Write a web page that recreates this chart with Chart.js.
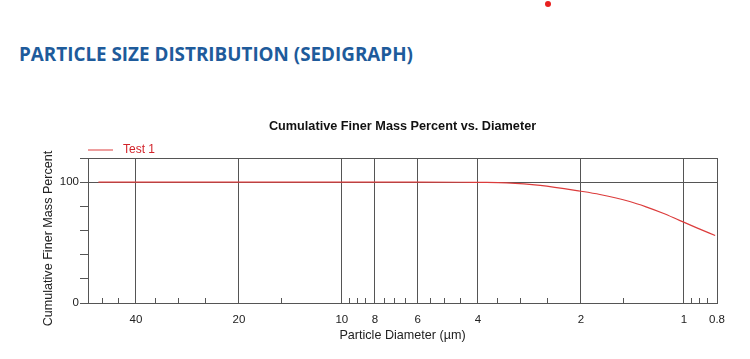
<!DOCTYPE html>
<html>
<head>
<meta charset="utf-8">
<script src="https://cdn.jsdelivr.net/npm/chart.js@4.4.1/dist/chart.umd.min.js"></script>
<style>
  html, body { margin: 0; padding: 0; background: #ffffff; }
  body { width: 750px; height: 359px; position: relative; overflow: hidden; }
  #heading {
    position: absolute; left: 19px; top: 45px; margin: 0;
    font-family: "Open Sans", "Noto Sans", sans-serif; font-weight: 700;
    font-size: 19px; line-height: 19px; color: #1e5b9b; white-space: nowrap;
    transform-origin: 0 0;
  }
  #dot { position: absolute; left: 545px; top: 1px; width: 6px; height: 6px; border-radius: 50%; background: #e8201f; }
  #wrap { position: absolute; left: 0; top: 0; width: 750px; height: 359px; }
</style>
</head>
<body>
<div id="dot"></div>
<div id="heading">PARTICLE SIZE DISTRIBUTION (SEDIGRAPH)</div>
<div id="wrap"><canvas id="c" width="750" height="359"></canvas></div>
<script>
// ---- data ----
const seriesName = 'Test 1';
const diameters = [51.5, 40, 20, 10, 6, 4.5, 4, 3.3, 2.63, 2.0, 1.76, 1.44, 1.29, 1.15, 1.03, 0.92, 0.81];
const finerPercent = [100, 100, 100, 100, 100, 99.95, 99.8, 99.45, 97.4, 92.5, 89.8, 84.0, 79.6, 74.3, 68.4, 62.4, 55.9];
const xMajorTicks = [40, 20, 10, 8, 6, 4, 2, 1, 0.8];
const xTickLabels = ['40', '20', '10', '8', '6', '4', '2', '1', '0.8'];
const xMinorTicks = [50, 45, 35, 30, 25, 15, 9.5, 9, 8.5, 7.5, 7, 6.5, 5.5, 5, 4.5, 3.5, 3, 2.5, 1.5, 0.95, 0.9, 0.85];
const yLabelValues = [0, 100];
const yTickLabels = ['0', '100'];

// fit heading width to reference
(function(){
  const h = document.getElementById('heading');
  const w = h.getBoundingClientRect().width;
  h.style.transform = 'scaleX(' + (394 / w) + ')';
})();

const lineColor = '#dc3c3c';
const gridColor = '#555555';
const fontFamily = '"Liberation Sans", Arial, sans-serif';

// legend symbol: short line followed by a gap
const legendSym = document.createElement('canvas');
legendSym.width = 29; legendSym.height = 3;
(function(){
  const g = legendSym.getContext('2d');
  g.strokeStyle = lineColor; g.lineWidth = 1;
  g.beginPath(); g.moveTo(0, 1.5); g.lineTo(25, 1.5); g.stroke();
})();

const points = diameters.map((d, i) => ({ x: d, y: finerPercent[i] }));

new Chart(document.getElementById('c'), {
  type: 'line',
  data: {
    datasets: [{
      label: seriesName,
      data: points,
      borderColor: lineColor,
      backgroundColor: lineColor,
      borderWidth: 1.2,
      pointRadius: 0,
      cubicInterpolationMode: 'monotone',
      fill: false
    }]
  },
  options: {
    responsive: false,
    animation: false,
    devicePixelRatio: 1,
    layout: { padding: { left: 0, right: 33, top: 0, bottom: 0 } },
    plugins: {
      title: {
        display: true,
        text: 'Cumulative Finer Mass Percent vs. Diameter',
        fullSize: false,
        color: '#111111',
        font: { family: fontFamily, size: 12.7, weight: 'bold' },
        padding: { top: 118.9, bottom: 9.86 }
      },
      legend: {
        display: true,
        fullSize: false,
        align: 'start',
        maxHeight: 14,
        labels: {
          usePointStyle: true,
          pointStyle: legendSym,
          pointStyleWidth: 29,
          padding: 0,
          color: '#d2232a',
          font: { family: fontFamily, size: 12 }
        }
      },
      tooltip: { enabled: false }
    },
    scales: {
      x: {
        type: 'logarithmic',
        reverse: true,
        min: 0.8,
        max: 55.24,
        afterFit: (s) => { s.height = 56; },
        afterBuildTicks: (s) => {
          const all = xMajorTicks.concat(xMinorTicks).sort((a, b) => b - a);
          s.ticks = all.map(v => ({ value: v, major: xMajorTicks.includes(v) }));
        },
        ticks: {
          autoSkip: false,
          maxRotation: 0,
          minRotation: 0,
          padding: 14.8,
          color: '#222222',
          font: { family: fontFamily, size: 11.5 },
          callback: (v) => {
            const i = xMajorTicks.indexOf(v);
            return i >= 0 ? xTickLabels[i] : '';
          }
        },
        grid: {
          drawTicks: true,
          tickLength: -5,
          color: (ctx) => (ctx.tick && xMajorTicks.includes(ctx.tick.value)) ? gridColor : 'rgba(0,0,0,0)',
          tickColor: gridColor,
          lineWidth: 1
        },
        border: { display: true, color: gridColor, width: 1 },
        title: {
          display: true,
          text: 'Particle Diameter (µm)',
          color: '#222222',
          font: { family: fontFamily, size: 12.6 },
          padding: { top: 0, bottom: 16 }
        }
      },
      y: {
        type: 'linear',
        min: 0,
        max: 120,
        afterFit: (s) => {
          s.width = 88;
          // the reference centres this title a little below the plot's middle
          if (!s._shiftedTitle) {
            const orig = Object.getPrototypeOf(s).drawTitle;
            s.drawTitle = function () {
              this.ctx.save();
              this.ctx.translate(0, 8);
              orig.call(this);
              this.ctx.restore();
            };
            s._shiftedTitle = true;
          }
        },
        ticks: {
          stepSize: 20,
          padding: 1,
          color: '#222222',
          font: { family: fontFamily, size: 11.5 },
          callback: (v) => {
            const i = yLabelValues.indexOf(v);
            return i >= 0 ? yTickLabels[i] : '';
          }
        },
        grid: {
          drawTicks: true,
          tickLength: 8,
          color: (ctx) => (ctx.tick && (ctx.tick.value === 100 || ctx.tick.value === 120)) ? gridColor : 'rgba(0,0,0,0)',
          tickColor: gridColor,
          lineWidth: 1
        },
        border: { display: true, color: gridColor, width: 1 },
        title: {
          display: true,
          text: 'Cumulative Finer Mass Percent',
          color: '#222222',
          font: { family: fontFamily, size: 12.6 },
          padding: { top: 41.4, bottom: 0 }
        }
      }
    }
  }
});
</script>
</body>
</html>
